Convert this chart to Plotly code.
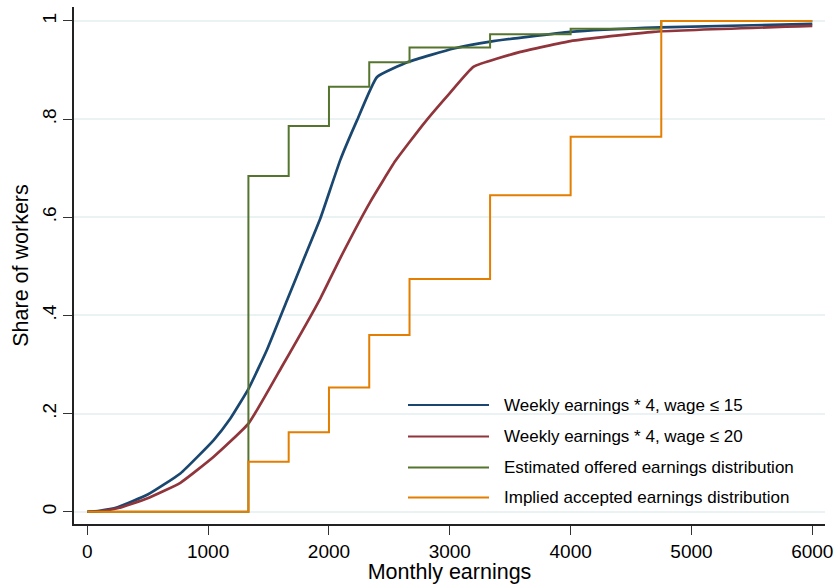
import plotly.graph_objects as go

# ---- data ----
blue_x = [0, 100, 250, 500, 770, 1046, 1184, 1335, 1487, 1653, 1800, 1929, 2094, 2233, 2398, 2660, 3033, 3336, 3998, 4743, 6000]
blue_y = [0, 0.002, 0.009, 0.035, 0.078, 0.146, 0.19, 0.251, 0.33, 0.431, 0.52, 0.598, 0.717, 0.798, 0.886, 0.917, 0.944, 0.958, 0.978, 0.987, 0.994]

red_x = [0, 100, 250, 494, 770, 1046, 1335, 1611, 1929, 2100, 2343, 2550, 2785, 3000, 3198, 3584, 3998, 4688, 6000]
red_y = [0, 0.001, 0.007, 0.027, 0.059, 0.112, 0.18, 0.296, 0.435, 0.52, 0.632, 0.715, 0.791, 0.853, 0.907, 0.937, 0.959, 0.978, 0.990]

step_x = [0, 1333.33, 1666.67, 2000, 2333.33, 2666.67, 3333.33, 4000, 4750, 6000]
offered_y = [0, 0.684, 0.786, 0.866, 0.916, 0.946, 0.973, 0.984, 1.0, 1.0]
accepted_y = [0, 0.102, 0.162, 0.253, 0.360, 0.474, 0.645, 0.764, 1.0, 1.0]

names = ["Weekly earnings * 4, wage \u2264 15",
         "Weekly earnings * 4, wage \u2264 20",
         "Estimated offered earnings distribution",
         "Implied accepted earnings distribution"]
colors = ["#1a476f", "#90353b", "#55752f", "#e37e00"]

y_ticks = [0, 0.2, 0.4, 0.6, 0.8, 1]
y_ticktext = ["0", ".2", ".4", ".6", ".8", "1"]
x_ticks = [0, 1000, 2000, 3000, 4000, 5000, 6000]

FONT = "Liberation Sans, Arial, sans-serif"

fig = go.Figure()
fig.add_trace(go.Scatter(x=blue_x, y=blue_y, mode="lines", line=dict(color=colors[0], width=2.7, shape="spline", smoothing=0.4), name=names[0], showlegend=False))
fig.add_trace(go.Scatter(x=red_x, y=red_y, mode="lines", line=dict(color=colors[1], width=2.7, shape="spline", smoothing=0.4), name=names[1], showlegend=False))
fig.add_trace(go.Scatter(x=step_x, y=offered_y, mode="lines", line=dict(color=colors[2], width=2, shape="hv"), name=names[2], showlegend=False))
fig.add_trace(go.Scatter(x=step_x, y=accepted_y, mode="lines", line=dict(color=colors[3], width=2, shape="hv"), name=names[3], showlegend=False))

# custom legend (long line samples as in the reference)
W, H = 838, 584
ml, mr, mt, mb = 74, 13, 7, 60
pw, ph = W - ml - mr, H - mt - mb
def px(xp):
    return (xp - ml) / pw
def py(yp):
    return 1 - (yp - mt) / ph
rows = [405, 436.5, 467.5, 497.5]
for i, (nm, c) in enumerate(zip(names, colors)):
    fig.add_shape(type="line", xref="paper", yref="paper", x0=px(408), x1=px(489), y0=py(rows[i]), y1=py(rows[i]),
                  line=dict(color=c, width=2))
    fig.add_annotation(xref="paper", yref="paper", x=px(502), y=py(rows[i]), text=nm, showarrow=False,
                       xanchor="left", yanchor="middle", font=dict(family=FONT, size=17, color="black"))

fig.update_layout(
    width=W, height=H,
    margin=dict(l=ml, r=mr, t=mt, b=mb),
    paper_bgcolor="white", plot_bgcolor="white",
    font=dict(family=FONT, size=19, color="black"),
    showlegend=False,
)
fig.update_xaxes(range=[-110, 6105], tickvals=x_ticks, ticks="outside", ticklen=9, tickwidth=1.3, tickcolor="#333",
                 showline=True, linecolor="#222", linewidth=1.5, showgrid=False, zeroline=False,
                 title=dict(text="Monthly earnings", font=dict(size=21.5), standoff=3),
                 tickfont=dict(size=19), automargin=False)
fig.update_yaxes(range=[-0.025, 1.0285], tickvals=y_ticks, ticktext=y_ticktext, tickangle=-90,
                 ticks="outside", ticklen=9, tickwidth=1.3, tickcolor="#333",
                 showline=True, linecolor="#222", linewidth=1.5, showgrid=True, gridcolor="#eaf2f3", gridwidth=1.5,
                 zeroline=False, title=dict(text="Share of workers", font=dict(size=21.5), standoff=4),
                 tickfont=dict(size=19), automargin=False)

fig.write_html("out.html", config={"displayModeBar": False},
               post_script="document.body.style.margin='0';document.body.style.padding='0';")
